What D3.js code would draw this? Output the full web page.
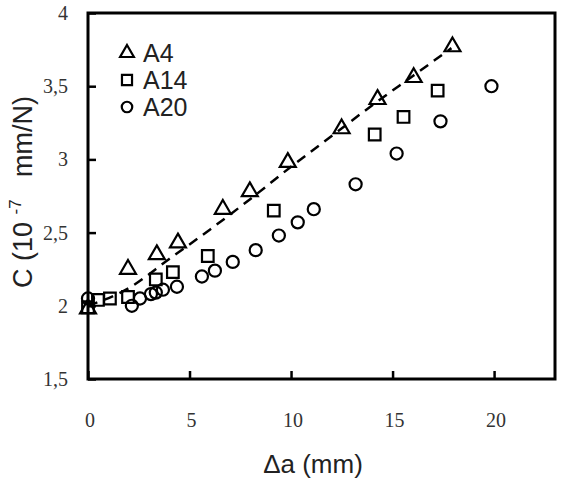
<!DOCTYPE html>
<html>
<head>
<meta charset="utf-8">
<script src="https://cdn.jsdelivr.net/npm/d3@7"></script>
<style>
  body { margin: 0; background: #fff; }
  svg text { white-space: pre; }
</style>
</head>
<body>
<svg id="chart" width="566" height="480"></svg>
<script>
// donnees : [delta a (mm), C (1e-7 mm/N)]
var a4 = [[0,1.98],[1.97,2.25],[3.39,2.35],[4.43,2.43],[6.64,2.66],[7.97,2.78],
          [9.84,2.98],[12.49,3.21],[14.26,3.41],[16.04,3.56],[17.95,3.77]];
var a14 = [[0,1.99],[0.49,2.04],[1.08,2.05],[1.97,2.06],[3.34,2.18],[4.18,2.23],
           [5.9,2.34],[9.15,2.65],[14.12,3.17],[15.54,3.29],[17.22,3.47]];
var a20 = [[0,2.05],[2.16,2.0],[2.56,2.05],[3.1,2.08],[3.34,2.09],[3.69,2.11],
           [4.38,2.13],[5.61,2.2],[6.25,2.24],[7.13,2.3],[8.26,2.38],[9.4,2.48],
           [10.33,2.57],[11.12,2.66],[13.18,2.83],[15.2,3.04],[17.36,3.26],[19.87,3.5]];
// courbe en pointilles (tendance A4)
var fitA4 = [[0,2.0],[2,2.12],[4,2.32],[6,2.52],[8,2.73],[10,2.95],[12,3.16],
             [14,3.37],[16,3.57],[17.9,3.76]];
var xTicks = [0,5,10,15,20];
var yTicks = [1.5,2,2.5,3,3.5,4];
var legendNames = ["A4","A14","A20"];

var svg = d3.select("#chart");
var gLeft = 88, gRight = 555, gTop = 13, gBottom = 379;

var x = d3.scaleLinear().domain([0,23]).range([gLeft,gRight]);
var y = d3.scaleLinear().domain([1.5,4]).range([gBottom,gTop]);

var serif = "'Times New Roman','Liberation Serif',serif";
var sans = "Arial,'Liberation Sans',sans-serif";

// ticks vers l'interieur
var xAxis = d3.axisTop(x).tickValues(xTicks).tickSize(8).tickFormat("");
svg.append("g")
	.attr("transform","translate(0,"+gBottom+")")
	.call(xAxis)
	.call(function(g){ g.select(".domain").remove(); })
	.selectAll("line").attr("stroke","#000").attr("stroke-width",2.5);

var yAxis = d3.axisRight(y).tickValues(yTicks).tickSize(8).tickFormat("");
svg.append("g")
	.attr("transform","translate("+gLeft+",0)")
	.call(yAxis)
	.call(function(g){ g.select(".domain").remove(); })
	.selectAll("line").attr("stroke","#000").attr("stroke-width",2.5);

// cadre
svg.append("rect")
	.attr("x",gLeft).attr("y",gTop)
	.attr("width",gRight-gLeft).attr("height",gBottom-gTop)
	.attr("fill","none").attr("stroke","#000").attr("stroke-width",3);

// etiquettes des axes
svg.selectAll(".xlab").data(xTicks).enter().append("text")
	.attr("class","xlab")
	.attr("x",function(d){ return x(d)+2; })
	.attr("y",427)
	.attr("text-anchor","middle")
	.attr("font-family",serif).attr("font-size",20).attr("fill","#333")
	.text(function(d){ return d; });

svg.selectAll(".ylab").data(yTicks).enter().append("text")
	.attr("class","ylab")
	.attr("x",68)
	.attr("y",function(d){ return y(d)+7; })
	.attr("text-anchor","end")
	.attr("font-family",serif).attr("font-size",20).attr("fill","#333")
	.text(function(d){ return String(d).replace(".",","); });

// titres
svg.append("text")
	.attr("x",313).attr("y",473)
	.attr("text-anchor","middle")
	.attr("font-family",sans).attr("font-size",26).attr("fill","#222")
	.text("\u0394a (mm)");

var yt = svg.append("text")
	.attr("transform","translate(32,192) rotate(-90)")
	.attr("text-anchor","middle")
	.attr("font-family",sans).attr("font-size",27).attr("fill","#222");
yt.append("tspan").text("C (10 ");
yt.append("tspan").attr("font-size",17).attr("dy",-11).text("-7");
yt.append("tspan").attr("dy",11).text("   mm/N)");

// courbe
var line = d3.line().x(function(d){ return x(d[0]); }).y(function(d){ return y(d[1]); }).curve(d3.curveMonotoneX);
svg.append("path")
	.datum(fitA4)
	.attr("d",line)
	.attr("fill","none").attr("stroke","#000")
	.attr("stroke-width",2.5).attr("stroke-dasharray","10,7");

// points
var series = [
	{data:a4, sym:d3.symbolTriangle, size:110},
	{data:a14, sym:d3.symbolSquare, size:135},
	{data:a20, sym:d3.symbolCircle, size:115}
];
series.forEach(function(s){
	svg.append("g").selectAll("path").data(s.data).enter().append("path")
		.attr("d",d3.symbol().type(s.sym).size(s.size))
		.attr("transform",function(d){ return "translate("+x(d[0])+","+y(d[1])+")"; })
		.attr("fill","none").attr("stroke","#000").attr("stroke-width",2.2);
});

// legende
var leg = svg.append("g");
legendNames.forEach(function(n,i){
	var cy = 53 + i*27;
	leg.append("path")
		.attr("d",d3.symbol().type(series[i].sym).size(series[i].size*0.75))
		.attr("transform","translate(127,"+cy+")")
		.attr("fill","none").attr("stroke","#000").attr("stroke-width",2.2);
	leg.append("text")
		.attr("x",143).attr("y",cy+9)
		.attr("font-family",sans).attr("font-size",25).attr("fill","#222")
		.text(n);
});
</script>
</body>
</html>
